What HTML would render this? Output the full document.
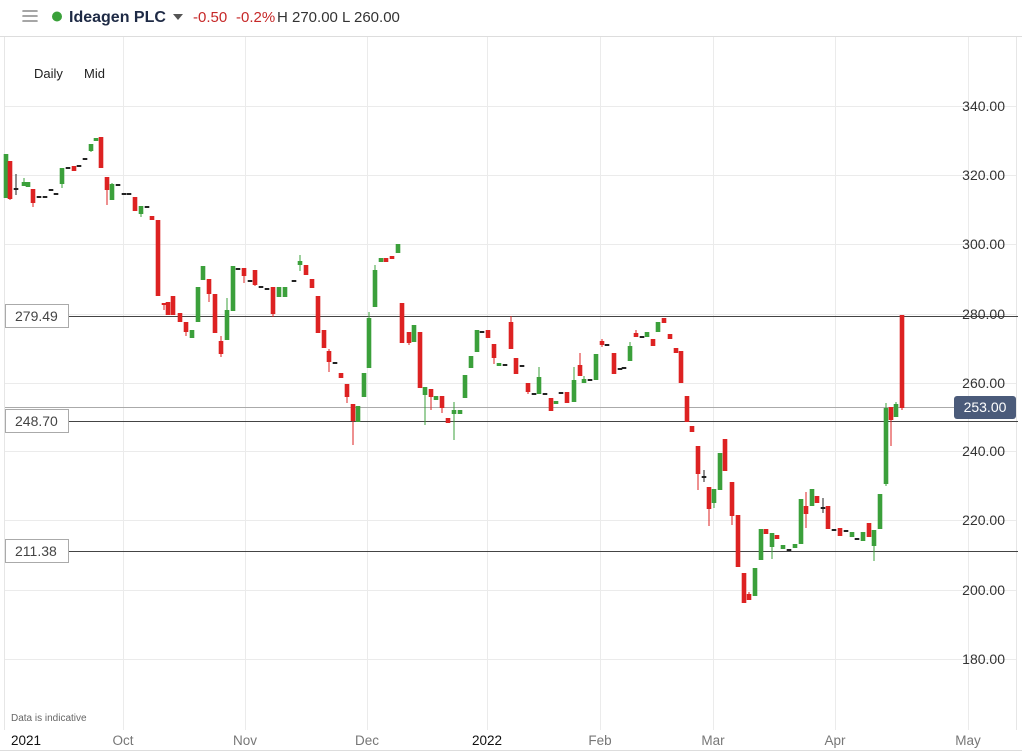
<!DOCTYPE html>
<html><head><meta charset="utf-8"><style>
body{margin:0;background:#fff;width:1022px;height:753px;overflow:hidden;font-family:"Liberation Sans",sans-serif}
svg{position:absolute;left:0;top:0}
</style></head><body>
<svg id="s" width="1022" height="753" xmlns="http://www.w3.org/2000/svg">
<rect width="1022" height="753" fill="#fff"/>
<line x1="0" y1="36.5" x2="1022" y2="36.5" stroke="#ddd"/>
<line x1="4.5" y1="37" x2="4.5" y2="730" stroke="#e6e6e6"/>
<line x1="1016.5" y1="37" x2="1016.5" y2="730" stroke="#e6e6e6"/>
<g stroke="#888" stroke-width="1.6" stroke-linecap="round"><line x1="23" y1="11" x2="37" y2="11"/><line x1="23" y1="16" x2="37" y2="16"/><line x1="23" y1="21" x2="37" y2="21"/></g>
<circle cx="57" cy="16.5" r="5" fill="#3aa13a"/>
<text x="69" y="22" font-size="16" font-weight="bold" fill="#1e2a45">Ideagen PLC</text>
<path d="M173 14 L183 14 L178 20 Z" fill="#555"/>
<text x="193" y="22" font-size="15" fill="#c62828">-0.50</text>
<text x="236" y="22" font-size="15" fill="#c62828">-0.2%</text>
<text x="277" y="22" font-size="15" fill="#333">H 270.00 L 260.00</text>
<text x="34" y="78" font-size="13" fill="#222">Daily</text>
<text x="84" y="78" font-size="13" fill="#222">Mid</text>
<g id="grid" stroke="#ebebeb" stroke-width="1"></g>
<g id="lv"></g>
<g id="c"></g>
<text x="11" y="721" font-size="10" fill="#666">Data is indicative</text>
<g font-size="13.5" fill="#777" text-anchor="middle">
<text x="26" y="745" fill="#111" >2021</text>
<text x="123" y="745">Oct</text><text x="245" y="745">Nov</text><text x="367" y="745">Dec</text>
<text x="487" y="745" fill="#111">2022</text><text x="600" y="745">Feb</text><text x="713" y="745">Mar</text>
<text x="835" y="745">Apr</text><text x="968" y="745">May</text></g>
<line x1="0" y1="750.5" x2="1022" y2="750.5" stroke="#ddd"/>
</svg>
<script>
var NS="http://www.w3.org/2000/svg";
function el(p,t,a,txt){var e=document.createElementNS(NS,t);for(var k in a)e.setAttribute(k,a[k]);if(txt)e.textContent=txt;p.appendChild(e);return e;}
var g=document.getElementById('grid');
[123,245,367,487,600,713,835,968].forEach(function(x){el(g,'line',{x1:x+.5,y1:37,x2:x+.5,y2:730});});
var ys={340:106,320:175,300:244,280:314,260:383,240:451,220:520,200:590,180:659};
var s=document.getElementById('s');
for(var p in ys){var y=ys[p];el(g,'line',{x1:5,y1:y+.5,x2:1016,y2:y+.5});
 if(p!=280||true)el(s,'text',{x:1005,y:y+5,'font-size':14,fill:'#333','text-anchor':'end'},p+'.00');}
var lv=document.getElementById('lv');
el(lv,'line',{x1:5,y1:407.5,x2:1016,y2:407.5,stroke:'#aaa'});
[[316,'279.49'],[421,'248.70'],[551,'211.38']].forEach(function(a){
 el(lv,'line',{x1:68,y1:a[0]+.5,x2:1018,y2:a[0]+.5,stroke:'#444'});
 el(lv,'rect',{x:5.5,y:a[0]-11.5,width:63,height:23,fill:'#fff',stroke:'#aaa'});
 el(lv,'text',{x:15,y:a[0]+5,'font-size':14,fill:'#444'},a[1]);});
el(lv,'rect',{x:954,y:396,width:62,height:23,rx:3,fill:'#4b5b7a'});
el(lv,'text',{x:985,y:412,'font-size':14,fill:'#fff','text-anchor':'middle'},'253.00');
var d=[
[6,154,198,154,198,'g'],[10,161,199,161,200,'r'],[16,188,190,174,195,'k'],[24,182,186,178,186,'g'],[28,182,187,182,187,'g'],
[33,189,203,189,207,'r'],[39,196,197],[45,196,197],[51,189,190],[56,193,194],[62,168,184,168,188,'g'],[68,167,168],
[74,166,171,166,171,'r'],[79,165,166],[85,158,159],[91,144,151,144,152,'g'],[96,138,141,138,141,'g'],[101,137,168,137,168,'r'],
[107,177,190,177,205,'r'],[112,184,200,183,200,'g'],[118,184,185],[124,193,194],[129,193,194],[135,197,211,197,211,'r'],
[141,206,214,206,217,'g'],[147,206,207],[152,216,220,216,220,'r'],[158,220,296,220,296,'r'],[164,303,305,303,310,'r'],
[168,302,315,302,315,'r'],[173,296,315,296,315,'r'],[180,313,322,313,322,'r'],[186,322,332,322,336,'r'],[192,330,338,330,338,'g'],
[198,287,322,287,322,'g'],[203,266,280,266,280,'g'],[209,279,294,279,302,'r'],[215,294,333,294,333,'r'],[221,341,354,336,357,'r'],
[227,310,340,298,340,'g'],[233,266,311,266,311,'g'],[238,268,269],[244,268,276,268,283,'r'],[250,280,281],[255,270,285,270,286,'r'],
[261,286,287],[267,288,289],[273,287,314,287,317,'r'],[279,287,297,287,297,'g'],[285,287,297,287,297,'g'],[294,280,281],
[300,261,265,255,271,'g'],[306,265,275,265,275,'r'],[312,279,288,279,288,'r'],[318,296,333,296,333,'r'],[324,330,348,330,348,'r'],
[329,351,362,349,372,'r'],[335,362,363],[341,373,378,373,378,'r'],[347,384,397,384,403,'r'],[353,404,421,404,445,'r'],
[358,406,422,406,422,'g'],[364,373,397,373,397,'g'],[369,318,368,312,368,'g'],[375,270,307,265,307,'g'],[381,258,262,258,262,'g'],
[386,258,262,258,262,'r'],[392,256,259,256,259,'r'],[398,244,253,244,253,'g'],
[402,303,343,303,343,'r'],[409,332,343,332,345,'r'],[414,325,342,325,342,'g'],[420,332,388,332,388,'r'],[425,387,395,387,425,'g'],
[431,389,397,389,410,'r'],[436,396,400,396,400,'g'],[442,396,408,396,413,'r'],[448,418,423,418,423,'r'],[454,410,414,402,440,'g'],
[460,410,414,410,414,'g'],[465,375,398,375,398,'g'],[471,356,368,356,368,'g'],[477,330,352,330,352,'g'],[482,331,332],
[488,330,338,330,338,'r'],[494,344,358,344,364,'r'],[499,363,366,363,366,'g'],[505,364,365],[511,322,349,316,349,'r'],
[516,358,374,358,374,'r'],[522,365,366],[528,383,392,383,394,'r'],[534,393,394],[539,377,394,367,394,'g'],[545,393,394],
[551,398,411,398,411,'r'],[556,401,404,401,404,'g'],[561,392,393],[567,392,403,392,403,'r'],[574,380,402,367,402,'g'],
[580,365,376,353,376,'r'],[584,379,383,376,383,'g'],[590,379,380],[596,354,380,354,380,'g'],[602,341,345,339,347,'r'],[607,344,345],
[614,353,374,353,374,'r'],[620,368,369],[624,367,368],[630,346,361,342,361,'g'],[636,333,337,330,337,'r'],[642,336,337],
[647,332,337,332,337,'g'],[653,339,346,339,346,'r'],[658,322,332,322,332,'g'],[664,318,323,318,323,'r'],[670,334,339,334,339,'r'],
[676,348,353,348,353,'r'],[681,351,383,351,383,'r'],[687,396,422,396,422,'r'],[692,426,432,426,432,'r'],[698,446,474,446,490,'r'],
[704,476,477,470,482,'k'],[709,487,509,487,526,'r'],[714,489,503,489,508,'g'],[720,453,490,453,490,'g'],[725,439,471,439,471,'r'],
[732,482,516,482,525,'r'],[738,515,567,515,567,'r'],[744,573,603,573,603,'r'],[749,594,600,592,600,'r'],[755,568,596,568,596,'g'],
[761,529,560,529,560,'g'],[766,529,534,529,534,'r'],[772,533,547,533,559,'g'],[777,535,539,535,539,'r'],[783,545,549,545,549,'g'],
[789,549,550],[795,544,548,544,548,'g'],[801,499,544,499,544,'g'],[806,506,514,492,528,'r'],[812,489,506,489,506,'g'],
[817,496,503,496,503,'r'],[823,507,508,498,513,'k'],[828,506,529,506,529,'r'],[834,529,530],[840,528,536,528,536,'r'],[846,530,531],
[852,532,537,532,537,'g'],[857,538,539],[863,532,541,532,541,'g'],[869,523,537,523,537,'r'],[874,530,546,530,561,'g'],
[880,494,529,494,529,'g'],[886,408,484,403,486,'g'],[891,407,420,407,446,'r'],[896,404,417,402,417,'g'],[902,315,408,315,410,'r']];
var c=document.getElementById('c');
var col={g:'#3ba03b',r:'#dd2222',k:'#222'};
d.forEach(function(a){var x=a[0],t=a[1],b=a[2],wt=a[3]||t,wb=a[4]||b,k=a[5]||'k';
 if(b-t<1.5)b=t+2;
 el(c,'line',{x1:x,y1:wt,x2:x,y2:wb,stroke:col[k],'stroke-width':1});
 el(c,'rect',{x:x-2.3,y:t,width:k=='k'&&a.length<4?4.6:4.6,height:b-t,fill:col[k]});});
</script>
</body></html>
